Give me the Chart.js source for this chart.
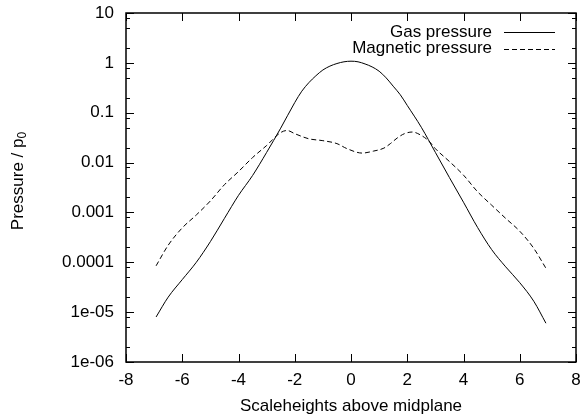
<!DOCTYPE html>
<html>
<head>
<meta charset="utf-8">
<script src="https://cdn.jsdelivr.net/npm/chart.js@4/dist/chart.umd.min.js"></script>
<style>
  body { margin: 0; background: #fff; }
  canvas { display: block; }
</style>
</head>
<body>
<canvas id="myChart" width="586" height="414"></canvas>
<script>
// data
const gasHeights = [-6.93, -6.5, -6, -5.5, -5, -4.5, -4, -3.5, -3, -2.5, -2, -1.75, -1.5, -1.25, -1, -0.75, -0.5, -0.25, 0,
    0.25, 0.5, 0.75, 1, 1.25, 1.5, 1.75, 2, 2.5, 3, 3.5, 4, 4.5, 5, 5.5, 6, 6.5, 6.93];
const gasPressure = [8e-6, 2.0e-5, 4.5e-5, 1.0e-4, 2.6e-4, 7.6e-4, 2.2e-3, 5.5e-3, 0.016, 0.049, 0.16, 0.27, 0.40, 0.55, 0.72, 0.86, 0.97, 1.05, 1.08,
    1.05, 0.95, 0.83, 0.68, 0.50, 0.34, 0.23, 0.14, 0.051, 0.016, 5e-3, 1.6e-3, 5e-4, 1.8e-4, 8.1e-5, 3.9e-5, 1.65e-5, 6e-6];

const magHeights = [-6.93, -6.5, -6, -5.5, -5, -4.5, -4, -3.5, -3, -2.5, -2.27, -2, -1.5, -1, -0.5, -0.14,
    0.4, 0.8, 1.17, 1.4, 1.64, 1.9, 2.18, 2.5, 2.77, 3, 3.5, 4, 4.5, 5, 5.5, 6, 6.5, 6.93];
const magPressure = [8.5e-5, 2.2e-4, 4.9e-4, 8.9e-4, 1.7e-3, 3.6e-3, 6.6e-3, 0.0126, 0.022, 0.040, 0.044, 0.038, 0.030, 0.0275, 0.024, 0.019,
    0.0155, 0.017, 0.0195, 0.024, 0.031, 0.038, 0.041, 0.035, 0.027, 0.019, 0.0105, 5.6e-3, 2.6e-3, 1.4e-3, 7.6e-4, 4.2e-4, 1.9e-4, 7.6e-5];

const seriesNames = ['Gas pressure', 'Magnetic pressure'];
const xTickValues = [-8, -6, -4, -2, 0, 2, 4, 6, 8];
const yTickValues = [1e-6, 1e-5, 1e-4, 1e-3, 0.01, 0.1, 1, 10];
const yTickLabels = ['1e-06', '1e-05', '0.0001', '0.001', '0.01', '0.1', '1', '10'];
const yMinorSteps = [2, 5, 8];
const xTitle = 'Scaleheights above midplane';
const yTitle = 'Pressure / p';
const yTitleSub = '0';

const FONT = '17px "Liberation Sans", Arial, sans-serif';
const SUBFONT = '12px "Liberation Sans", Arial, sans-serif';

function toPoints(xs, ys) {
    return xs.map(function (x, i) { return { x: x, y: ys[i] }; });
}

// gnuplot style frame: box, inward ticks, titles and legend
const framePlugin = {
    id: 'frame',
    afterDatasetsDraw: function (chart) {
        const ctx = chart.ctx;
        const a = chart.chartArea;
        const xs = chart.scales.x;
        const ys = chart.scales.y;
        ctx.save();
        ctx.strokeStyle = '#000';

        // ticks
        ctx.lineWidth = 1;
        ctx.beginPath();
        xTickValues.forEach(function (v) {
            const px = Math.round(xs.getPixelForValue(v)) + 0.5;
            ctx.moveTo(px, a.bottom); ctx.lineTo(px, a.bottom - 8);
            ctx.moveTo(px, a.top); ctx.lineTo(px, a.top + 8);
        });
        yTickValues.forEach(function (v) {
            const py = Math.round(ys.getPixelForValue(v)) + 0.5;
            ctx.moveTo(a.left, py); ctx.lineTo(a.left + 8, py);
            ctx.moveTo(a.right, py); ctx.lineTo(a.right - 8, py);
            if (v < 10) {
                yMinorSteps.forEach(function (m) {
                    const pm = Math.round(ys.getPixelForValue(v * m)) + 0.5;
                    ctx.moveTo(a.left, pm); ctx.lineTo(a.left + 4, pm);
                    ctx.moveTo(a.right, pm); ctx.lineTo(a.right - 4, pm);
                });
            }
        });
        ctx.stroke();

        // box
        ctx.lineWidth = 1.5;
        ctx.strokeRect(a.left, a.top, a.right - a.left, a.bottom - a.top);

        // axis titles
        ctx.fillStyle = '#000';
        ctx.font = FONT;
        ctx.textAlign = 'center';
        ctx.textBaseline = 'middle';
        ctx.fillText(xTitle, (a.left + a.right) / 2, 406);

        ctx.save();
        ctx.translate(18, 181);
        ctx.rotate(-Math.PI / 2);
        const w1 = ctx.measureText(yTitle).width;
        ctx.font = SUBFONT;
        const w2 = ctx.measureText(yTitleSub).width;
        ctx.textAlign = 'left';
        ctx.font = FONT;
        ctx.fillText(yTitle, -(w1 + w2) / 2, 0);
        ctx.font = SUBFONT;
        ctx.fillText(yTitleSub, -(w1 + w2) / 2 + w1, 5);
        ctx.restore();

        // legend
        ctx.font = FONT;
        ctx.textAlign = 'right';
        chart.data.datasets.forEach(function (ds, i) {
            const ly = 32 + i * 16.5;
            ctx.fillText(ds.label, 492, ly);
            ctx.beginPath();
            ctx.lineWidth = 1;
            ctx.setLineDash(ds.borderDash || []);
            ctx.moveTo(504, Math.round(ly) + 0.5);
            ctx.lineTo(555, Math.round(ly) + 0.5);
            ctx.stroke();
        });
        ctx.setLineDash([]);
        ctx.restore();
    }
};

const ctx = document.getElementById('myChart').getContext('2d');
const myChart = new Chart(ctx, {
    type: 'line',
    data: {
        datasets: [{
            label: seriesNames[0],
            data: toPoints(gasHeights, gasPressure),
            borderColor: '#000',
            borderWidth: 1,
            pointRadius: 0,
            cubicInterpolationMode: 'monotone',
            fill: false
        }, {
            label: seriesNames[1],
            data: toPoints(magHeights, magPressure),
            borderColor: '#000',
            borderWidth: 1,
            borderDash: [5, 3],
            pointRadius: 0,
            cubicInterpolationMode: 'monotone',
            fill: false
        }]
    },
    options: {
        responsive: false,
        animation: false,
        layout: { padding: { top: 13, right: 10, left: 0, bottom: 0 } },
        plugins: {
            legend: { display: false },
            tooltip: { enabled: false }
        },
        scales: {
            x: {
                type: 'linear',
                min: -8,
                max: 8,
                grid: { display: false, drawTicks: false },
                border: { display: false },
                ticks: {
                    stepSize: 2,
                    padding: 8,
                    color: '#000',
                    font: { family: '"Liberation Sans", Arial, sans-serif', size: 17 },
                    maxRotation: 0,
                    callback: function (v) { return String(v); }
                },
                afterFit: function (scale) {
                    scale.height = 52;
                    scale.paddingLeft = 0;
                    scale.paddingRight = 0;
                }
            },
            y: {
                type: 'logarithmic',
                min: 1e-6,
                max: 10,
                grid: { display: false, drawTicks: false },
                border: { display: false },
                ticks: {
                    padding: 12,
                    color: '#000',
                    font: { family: '"Liberation Sans", Arial, sans-serif', size: 17 },
                    callback: function (v, i) { return yTickLabels[i]; }
                },
                afterBuildTicks: function (scale) {
                    scale.ticks = yTickValues.map(function (v) { return { value: v }; });
                },
                afterFit: function (scale) {
                    scale.width = 126;
                    scale.paddingTop = 0;
                    scale.paddingBottom = 0;
                }
            }
        }
    },
    plugins: [framePlugin]
});
</script>
</body>
</html>
